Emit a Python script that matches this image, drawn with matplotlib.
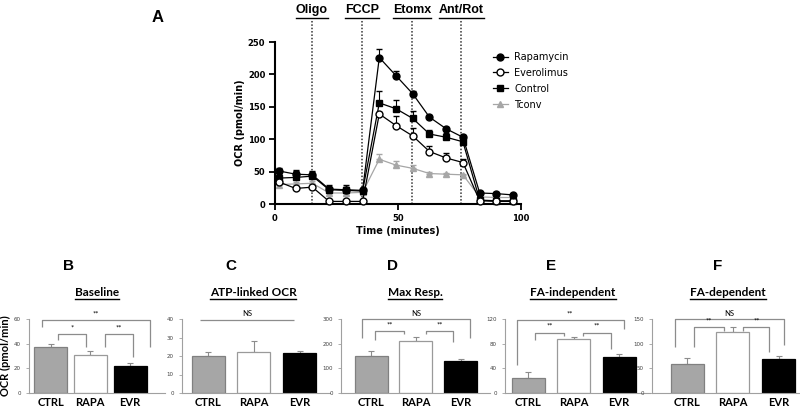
import numpy as np
import matplotlib.pyplot as plt
from matplotlib.lines import Line2D

# ---- data: panel A (Seahorse trace) ----
time_min = [1.6, 8.4, 15.2, 22.0, 28.8, 35.6, 42.4, 49.2, 56.0, 62.8, 69.6, 76.4, 83.2, 90.0, 96.8]
rapa = [51, 46, 45, 23, 22, 21, 226, 198, 170, 134, 116, 103, 17, 16, 14]
rapa_err = [4, 6, 5, 7, 7, 4, 13, 7, 5, 3, 3, 3, 2, 2, 2]
evero = [34, 24, 26, 4, 4, 4, 139, 121, 105, 81, 71, 64, 5, 4, 4]
evero_err = [3, 2, 3, 2, 2, 2, 3, 15, 13, 9, 8, 6, 1, 1, 1]
ctrl = [40, 41, 43, 22, 21, 20, 156, 147, 132, 108, 103, 96, 6, 5, 5]
ctrl_err = [6, 10, 8, 5, 6, 5, 18, 14, 12, 6, 6, 5, 2, 2, 2]
tconv = [30, 31, 32, 17, 17, 18, 69, 60, 55, 47, 46, 45, 11, 10, 10]
tconv_err = [3, 3, 3, 3, 3, 3, 8, 6, 5, 2, 2, 2, 1, 1, 1]
injections = ['Oligo', 'FCCP', 'Etomx', 'Ant/Rot']
inject_time = [15.0, 35.3, 55.7, 75.8]

# ---- data: panels B-F ----
groups = ['CTRL', 'RAPA', 'EVR']
baseline = [37.5, 30.5, 22.0]
baseline_err = [2.3, 3.7, 2.0]
atp = [20.0, 22.3, 21.7]
atp_err = [2.0, 5.8, 1.0]
maxresp = [149, 212, 128]
maxresp_err = [20, 14, 10]
fa_indep = [24.0, 87.5, 58.0]
fa_indep_err = [9.5, 3.0, 5.0]
fa_dep = [59, 123, 69]
fa_dep_err = [12, 10, 6]

W, H = 800, 408
fig = plt.figure(figsize=(8, 4.08), dpi=100)


def rect(l, r, b, t):
    return [l / W, 1 - b / H, (r - l) / W, (b - t) / H]


def fx(px):
    return px / W


def fy(py):
    return 1 - py / H


underlined = []

# ================= panel A =================
ax = fig.add_axes(rect(275, 521, 204, 42))
series = [
    (tconv, tconv_err, '^', '#a6a6a6', '#a6a6a6', 'Tconv', 2),
    (ctrl, ctrl_err, 's', 'black', 'black', 'Control', 3),
    (evero, evero_err, 'o', 'black', 'white', 'Everolimus', 4),
    (rapa, rapa_err, 'o', 'black', 'black', 'Rapamycin', 5),
]
handles = {}
for vals, err, mk, col, face, lab, z in series:
    lo = np.zeros(len(err))
    ax.errorbar(time_min, vals, yerr=[lo, err], color=col, lw=0.9,
                elinewidth=0.8, capsize=2.5, capthick=0.8, marker=mk,
                mfc=face, mec=col, mew=1.0, ms=5 if mk != 's' else 4.5,
                clip_on=False, zorder=z)
    handles[lab] = Line2D([], [], color=col, lw=0.9, marker=mk, mfc=face,
                          mec=col, mew=1.0, ms=5 if mk != 's' else 4.5)

ax.vlines(inject_time, 0, 284, colors='#333333', linestyles=(0, (1, 1.2)),
          lw=1.1, clip_on=False, zorder=1)
ax.set_xlim(0, 100)
ax.set_ylim(0, 250)
ax.set_xticks([0, 50, 100])
ax.set_yticks(range(0, 251, 50))
for s in ['top', 'right']:
    ax.spines[s].set_visible(False)
for s in ['left', 'bottom']:
    ax.spines[s].set_linewidth(1.5)
ax.tick_params(direction='out', length=4, width=1.3, labelsize=6, pad=3)
for t in ax.get_xticklabels() + ax.get_yticklabels():
    t.set_fontweight('bold')
ax.set_xlabel('Time (minutes)', fontsize=7, fontweight='bold', labelpad=2)
ax.set_ylabel('OCR (pmol/min)', fontsize=7, fontweight='bold', labelpad=2)

order = ['Rapamycin', 'Everolimus', 'Control', 'Tconv']
leg = fig.legend([handles[k] for k in order], order, loc='upper left',
                 bbox_to_anchor=(fx(493), fy(52)), frameon=False, fontsize=7,
                 handlelength=1.5, handletextpad=0.7, labelspacing=0.6,
                 borderpad=0, borderaxespad=0)

for name, t in zip(injections, inject_time):
    px = 275 + t * 2.46
    txt = fig.text(fx(px), fy(10), name, ha='center', va='center',
                   fontsize=9, fontweight='bold', family='Liberation Sans')
    underlined.append(txt)

fig.text(fx(158), fy(18), 'A', ha='center', va='center', fontsize=12,
         fontweight='bold', family='Liberation Sans')

# ================= panels B-F =================
panels = [
    ('B', 'Baseline', baseline, baseline_err, 60, 20, 29, 165, 50.5, 39.75, 68, 97),
    ('C', 'ATP-linked OCR', atp, atp_err, 40, 10, 182, 330, 208, 45.75, 231, 253),
    ('D', 'Max Resp.', maxresp, maxresp_err, 300, 100, 341, 490, 371, 44.75, 393, 415),
    ('E', 'FA-independent', fa_indep, fa_indep_err, 120, 40, 505, 650, 528, 45.5, 551, 573),
    ('F', 'FA-dependent', fa_dep, fa_dep_err, 150, 50, 652, 800, 687, 45.75, 718, 728),
]
# brackets: (x0, x1, top, left leg end, right leg end, label)
brackets = {
    'B': [(-0.21, 2.50, 59.2, 53.8, 37.5, '**'),
          (0.19, 0.89, 47.6, 43.0, 37.3, '*'),
          (1.37, 2.08, 47.6, 37.5, 29.4, '**')],
    'C': [(-0.17, 1.89, 39.5, 39.5, 39.5, 'NS')],
    'D': [(-0.21, 2.22, 298, 221, 221, 'NS'),
          (0.09, 0.74, 251, 215, 238, '**'),
          (1.23, 1.84, 251, 238, 208, '**')],
    'E': [(-0.25, 2.10, 118, 45, 103, '**'),
          (0.15, 0.79, 98, 86, 92, '**'),
          (1.21, 1.82, 98, 92, 72, '**')],
    'F': [(-0.26, 2.12, 149, 94, 97, 'NS'),
          (0.15, 0.80, 133, 94, 126, '**'),
          (1.23, 1.80, 133, 126, 84, '**')],
}
bar_face = ['#a6a6a6', 'white', 'black']
bar_edge = ['#808080', '#9a9a9a', 'black']
grey = '#8c8c8c'

for (letter, title, vals, errs, ymax, ystep, L, R, c0, sp,
     letter_x, title_x) in panels:
    bx = fig.add_axes(rect(L, R, 393, 319))
    xs = np.arange(len(groups))
    bx.bar(xs, vals, width=33 / sp, color=bar_face, edgecolor=bar_edge,
           linewidth=0.9, zorder=2)
    bx.errorbar(xs, vals, yerr=[np.zeros(3), errs], fmt='none',
                ecolor=grey, elinewidth=0.8, capsize=2, capthick=0.8,
                zorder=1)
    bx.set_xlim((L - c0) / sp, (R - c0) / sp)
    bx.set_ylim(0, ymax)
    bx.set_yticks(np.arange(0, ymax + 1, ystep))
    bx.set_xticks(xs)
    bx.set_xticklabels(groups, fontsize=8, fontweight='bold', family='Lato')
    for s in ['top', 'right']:
        bx.spines[s].set_visible(False)
    for s in ['left', 'bottom']:
        bx.spines[s].set_color('#a0a0a0')
        bx.spines[s].set_linewidth(0.8)
    bx.tick_params(axis='y', labelsize=4, colors='#a0a0a0', labelcolor='#404040',
                   length=2, width=0.6, pad=4)
    bx.tick_params(axis='x', length=0, pad=3, labelcolor='black')
    for x0, x1, top, yl, yr, lab in brackets[letter]:
        bx.plot([x0, x0, x1, x1], [yl, top, top, yr], color=grey, lw=0.9,
                clip_on=False, solid_capstyle='butt')
        bx.text((x0 + x1) / 2, top + ymax * 0.035, lab, ha='center',
                va='bottom', fontsize=5.5, family='Lato', clip_on=False)
    fig.text(fx(letter_x), fy(266), letter, ha='center', va='center',
             fontsize=11, fontweight='bold', family='Liberation Sans')
    tt = fig.text(fx(title_x), fy(292), title, ha='center', va='center',
                  fontsize=8.5, fontweight='bold', family='Lato')
    underlined.append(tt)
    if letter == 'B':
        bx.set_ylabel('OCR (pmol/min)', fontsize=8, fontweight='bold',
                      family='Lato', labelpad=2)

# underline the headings
fig.canvas.draw()
r = fig.canvas.get_renderer()
for t in underlined:
    bb = t.get_window_extent(renderer=r)
    yline = bb.y0 - 1.5
    fig.add_artist(Line2D([bb.x0 / W, bb.x1 / W], [yline / H, yline / H],
                          transform=fig.transFigure, color='black', lw=1.0))

fig.savefig('out.png', dpi=100)
